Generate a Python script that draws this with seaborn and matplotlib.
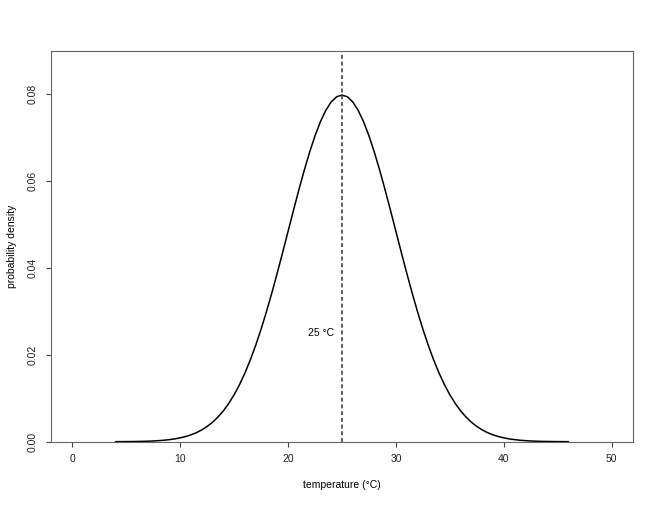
import matplotlib
matplotlib.use("Agg")
import matplotlib.pyplot as plt
import seaborn as sns
import pandas as pd

# Data (temperature in °C, probability density)
temperature = [4.0, 4.5, 5.0, 5.5, 6.0, 6.5, 7.0, 7.5, 8.0, 8.5, 9.0, 9.5, 10.0, 10.5,
               11.0, 11.5, 12.0, 12.5, 13.0, 13.5, 14.0, 14.5, 15.0, 15.5, 16.0, 16.5,
               17.0, 17.5, 18.0, 18.5, 19.0, 19.5, 20.0, 20.5, 21.0, 21.5, 22.0, 22.5,
               23.0, 23.5, 24.0, 24.5, 25.0, 25.5, 26.0, 26.5, 27.0, 27.5, 28.0, 28.5,
               29.0, 29.5, 30.0, 30.5, 31.0, 31.5, 32.0, 32.5, 33.0, 33.5, 34.0, 34.5,
               35.0, 35.5, 36.0, 36.5, 37.0, 37.5, 38.0, 38.5, 39.0, 39.5, 40.0, 40.5,
               41.0, 41.5, 42.0, 42.5, 43.0, 43.5, 44.0, 44.5, 45.0, 45.5, 46.0]
density = [0.00001, 0.00002, 0.00003, 0.00004, 0.00006, 0.00008, 0.00012, 0.00017,
           0.00025, 0.00034, 0.00048, 0.00065, 0.00089, 0.00119, 0.00158, 0.00208,
           0.00272, 0.00351, 0.00448, 0.00567, 0.00709, 0.00880, 0.01080, 0.01312,
           0.01579, 0.01881, 0.02218, 0.02590, 0.02995, 0.03427, 0.03884, 0.04357,
           0.04839, 0.05322, 0.05794, 0.06245, 0.06664, 0.07041, 0.07365, 0.07628,
           0.07821, 0.07939, 0.07979,
           0.07939, 0.07821, 0.07628, 0.07365, 0.07041, 0.06664, 0.06245, 0.05794,
           0.05322, 0.04839, 0.04357, 0.03884, 0.03427, 0.02995, 0.02590, 0.02218,
           0.01881, 0.01579, 0.01312, 0.01080, 0.00880, 0.00709, 0.00567, 0.00448,
           0.00351, 0.00272, 0.00208, 0.00158, 0.00119, 0.00089, 0.00065, 0.00048,
           0.00034, 0.00025, 0.00017, 0.00012, 0.00008, 0.00006, 0.00004, 0.00003,
           0.00002, 0.00001]
mean_temp = 25
annot_y = 0.025
annot_text = "25 °C"
x_ticks = [0, 10, 20, 30, 40, 50]
y_ticks = [0.00, 0.02, 0.04, 0.06, 0.08]
y_tick_labels = ["0.00", "0.02", "0.04", "0.06", "0.08"]

df = pd.DataFrame({"temperature": temperature, "density": density})

sns.set_style("white")
plt.rcParams["font.family"] = ["Liberation Sans", "DejaVu Sans"]

fig = plt.figure(figsize=(6.6, 5.05), dpi=100)
ax = fig.add_axes([0.0768, 0.1253, 0.9595 - 0.0768, 0.8996 - 0.1253])

sns.lineplot(data=df, x="temperature", y="density", color="black", lw=1.1, ax=ax)
ax.axvline(mean_temp, color="#333333", lw=1.1, dashes=(2.6, 1.8))
ax.text(mean_temp - 0.7, annot_y, annot_text, ha="right", va="center", fontsize=7.5, color="black")

ax.set_xlim(-2, 52)
ax.set_ylim(0, 0.09)
ax.set_xticks(x_ticks)
ax.set_xticklabels([str(t) for t in x_ticks])
ax.set_yticks(y_ticks)
ax.set_yticklabels(y_tick_labels, rotation=90, va="center")

for s in ax.spines.values():
    s.set_color("#666666")
    s.set_linewidth(0.8)
    s.set_visible(True)

ax.tick_params(axis="both", direction="out", length=3.6, width=0.8, color="#444444",
               labelsize=7.5, labelcolor="#222222", bottom=True, left=True, pad=5.5)

ax.set_xlabel("temperature (°C)", fontsize=7.5, labelpad=11, color="black")
ax.set_ylabel("probability density", fontsize=7.5, labelpad=8, color="black")

fig.savefig("out.png", dpi=100)
